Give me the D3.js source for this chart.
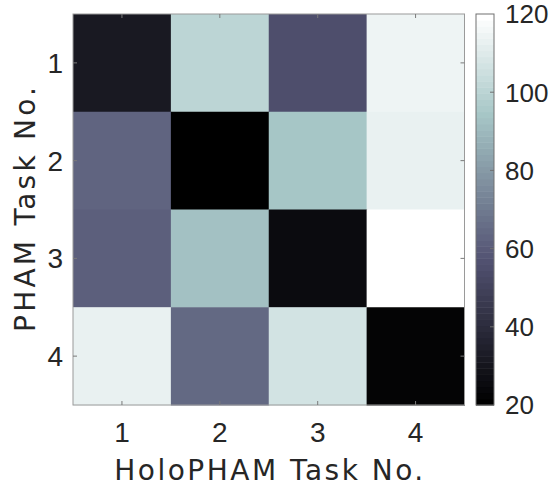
<!DOCTYPE html>
<html>
<head>
<meta charset="utf-8">
<script src="https://cdn.jsdelivr.net/npm/d3@7"></script>
<style>
  body { margin: 0; background: #fff; }
  text { font-family: "Liberation Sans", Arial, sans-serif; fill: #262626; }
  text.axlabel { font-family: "DejaVu Sans", sans-serif; }
</style>
</head>
<body>
<svg id="chart" width="553" height="489"></svg>
<script>
// PHAM task (rows) vs HoloPHAM task (columns)
var rowTasks = [1, 2, 3, 4];
var colTasks = [1, 2, 3, 4];
var row1 = [31, 100, 55, 115];
var row2 = [63, 20, 94, 113];
var row3 = [61, 93, 26, 120];
var row4 = [113, 65, 106, 22];
var colorTicks = [20, 40, 60, 80, 100, 120];

var rows = [row1, row2, row3, row4];
var cells = [];
rows.forEach(function(r, i) {
  r.forEach(function(v, j) {
    cells.push({ row: rowTasks[i], col: colTasks[j], value: v });
  });
});

var margin = { left: 73, top: 14, right: 464.5, bottom: 405 };
var svg = d3.select('#chart');

// MATLAB bone colormap: (7*gray + fliplr(hot)) / 8
function bone(t) {
  var hr = Math.min(1, t / 0.375),
      hg = Math.max(0, Math.min(1, (t - 0.375) / 0.375)),
      hb = Math.max(0, Math.min(1, (t - 0.75) / 0.25));
  var r = (7 * t + hb) / 8, g = (7 * t + hg) / 8, b = (7 * t + hr) / 8;
  return d3.rgb(r * 255, g * 255, b * 255).toString();
}
var cmin = 20, cmax = 120;
function color(v) {
  // quantize to 64 levels like the default colormap
  var t = (v - cmin) / (cmax - cmin);
  t = Math.max(0, Math.min(1, t));
  var k = Math.min(63, Math.floor(t * 64));
  return bone(k / 63);
}

var x = d3.scaleBand().domain(colTasks).range([margin.left, margin.right]);
var y = d3.scaleBand().domain(rowTasks).range([margin.top, margin.bottom]);

svg.append('g').selectAll('rect')
  .data(cells).enter().append('rect')
  .attr('x', d => x(d.col))
  .attr('y', d => y(d.row))
  .attr('width', x.bandwidth() + 0.5)
  .attr('height', y.bandwidth() + 0.5)
  .attr('fill', d => color(d.value));

// box
svg.append('rect')
  .attr('x', margin.left).attr('y', margin.top)
  .attr('width', margin.right - margin.left)
  .attr('height', margin.bottom - margin.top)
  .attr('fill', 'none').attr('stroke', '#9a9a9a').attr('stroke-width', 1);

// inner ticks on all four sides
var tl = 4;
var tk = svg.append('g').attr('stroke', '#7a7a7a').attr('stroke-width', 1);
colTasks.forEach(function(c) {
  var cx = x(c) + x.bandwidth() / 2;
  tk.append('line').attr('x1', cx).attr('x2', cx).attr('y1', margin.bottom).attr('y2', margin.bottom - tl);
  tk.append('line').attr('x1', cx).attr('x2', cx).attr('y1', margin.top).attr('y2', margin.top + tl);
});
rowTasks.forEach(function(r) {
  var cy = y(r) + y.bandwidth() / 2;
  tk.append('line').attr('y1', cy).attr('y2', cy).attr('x1', margin.left).attr('x2', margin.left + tl);
  tk.append('line').attr('y1', cy).attr('y2', cy).attr('x1', margin.right).attr('x2', margin.right - tl);
});

// tick labels
svg.append('g').selectAll('text')
  .data(colTasks).enter().append('text')
  .attr('x', d => x(d) + x.bandwidth() / 2)
  .attr('y', 442)
  .attr('text-anchor', 'middle')
  .attr('font-size', 28)
  .text(d => d);

svg.append('g').selectAll('text')
  .data(rowTasks).enter().append('text')
  .attr('x', 63)
  .attr('y', d => y(d) + y.bandwidth() / 2)
  .attr('dy', '0.36em')
  .attr('text-anchor', 'end')
  .attr('font-size', 28)
  .text(d => d);

// axis labels
svg.append('text')
  .attr('class', 'axlabel')
  .attr('x', (margin.left + margin.right) / 2)
  .attr('y', 480)
  .attr('text-anchor', 'middle')
  .attr('font-size', 28)
  .attr('textLength', 309)
  .attr('lengthAdjust', 'spacing')
  .text('HoloPHAM Task No.');

svg.append('text')
  .attr('class', 'axlabel')
  .attr('transform', 'translate(35,' + (margin.top + margin.bottom) / 2 + ') rotate(-90)')
  .attr('text-anchor', 'middle')
  .attr('font-size', 28)
  .attr('textLength', 245)
  .attr('lengthAdjust', 'spacing')
  .text('PHAM Task No.');

// colorbar
var cb = { x0: 476, x1: 494 };
var cy = d3.scaleLinear().domain([cmin, cmax]).range([margin.bottom, margin.top]);
var steps = d3.range(64);
svg.append('g').selectAll('rect')
  .data(steps).enter().append('rect')
  .attr('x', cb.x0)
  .attr('width', cb.x1 - cb.x0)
  .attr('y', k => cy(cmin + (k + 1) * (cmax - cmin) / 64))
  .attr('height', (margin.bottom - margin.top) / 64 + 0.5)
  .attr('fill', k => bone(k / 63));

svg.append('rect')
  .attr('x', cb.x0).attr('y', margin.top)
  .attr('width', cb.x1 - cb.x0).attr('height', margin.bottom - margin.top)
  .attr('fill', 'none').attr('stroke', '#707070').attr('stroke-width', 1);

var cbt = svg.append('g');
colorTicks.forEach(function(v) {
  if (v > cmin && v < cmax) {
    cbt.append('line').attr('x1', cb.x1).attr('x2', cb.x1 - 4)
      .attr('y1', cy(v)).attr('y2', cy(v)).attr('stroke', '#707070');
  }
});
cbt.selectAll('text')
  .data(colorTicks).enter().append('text')
  .attr('x', 505)
  .attr('y', d => cy(d))
  .attr('dy', '0.36em')
  .attr('font-size', 26)
  .text(d => d);
</script>
</body>
</html>
